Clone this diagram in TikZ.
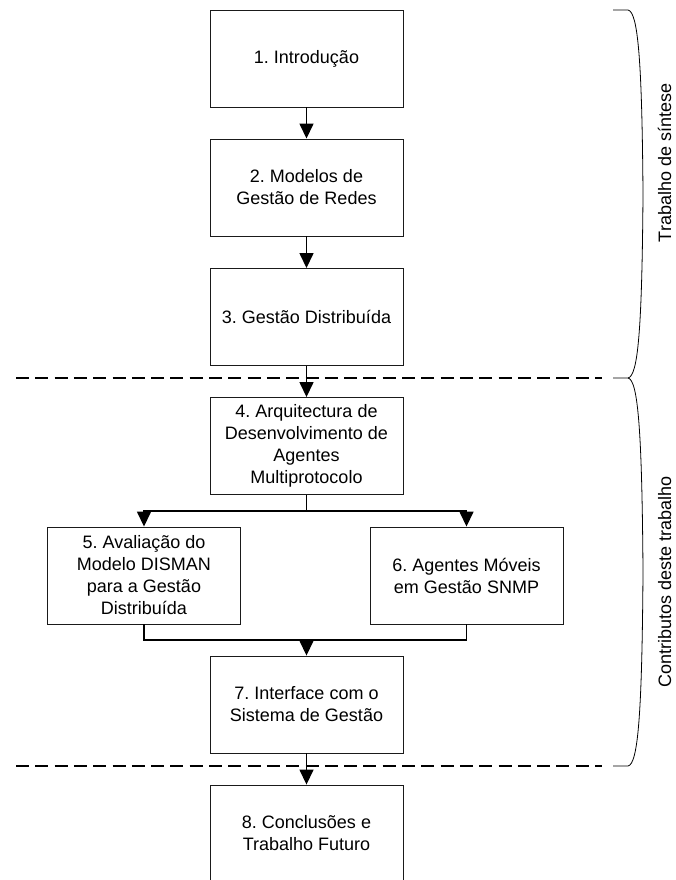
\documentclass[tikz,border=0pt]{standalone}
\usepackage{fontspec}
\setmainfont{Liberation Sans}
\usetikzlibrary{arrows.meta,positioning,calc}
\definecolor{Ink}{HTML}{1A1A1A}
\frenchspacing
\newcommand{\Capitulo}[4]{%
  \node[draw=Ink,line width=0.9pt,minimum width=193pt,minimum height=97pt,inner sep=2pt,align=center,font=\fontsize{18}{22}\selectfont] (#1) at (#2,#3) {#4};%
}

\begin{document}
\begin{tikzpicture}[x=1pt,y=-1pt,
  flow/.style={draw=black,line width=1.5pt,-{Triangle[length=15pt,width=14pt]}},
  ligacao/.style={draw=black,line width=1.5pt},
  sep/.style={draw=black,line width=1.2pt,dash pattern=on 13pt off 6.3pt},
  brace/.style={draw=black,line width=0.8pt},
  parte/.style={rotate=90,anchor=base,inner sep=0pt,font=\fontsize{18}{22}\selectfont}]
\useasboundingbox (0,0) rectangle (675,880);
% separators between the parts
\draw[sep] (16,378) -- (602,378);
\draw[sep] (16,766) -- (602,766);
% chapters
\Capitulo{c1}{306.5}{58.5}{1. Introdução}
\Capitulo{c2}{306.5}{187.5}{2. Modelos de\\Gestão de Redes}
\Capitulo{c3}{306.5}{317}{3. Gestão Distribuída}
\Capitulo{c4}{306.5}{446}{4. Arquitectura de\\Desenvolvimento de\\Agentes\\Multiprotocolo}
\Capitulo{c5}{144}{575.5}{5. Avaliação do\\Modelo DISMAN\\para a Gestão\\Distribuída}
\Capitulo{c6}{466.5}{575.5}{6. Agentes Móveis\\em Gestão SNMP}
\Capitulo{c7}{306.5}{704.5}{7. Interface com o\\Sistema de Gestão}
\Capitulo{c8}{306.5}{833.5}{8. Conclusões e\\Trabalho Futuro}
\coordinate (fork) at (306.5,511);
\coordinate (merge) at (306.5,640);
\foreach \a/\b in {c1/c2,c2/c3,c3/c4,c7/c8} {
  \draw[flow] (\a) -- (\b);
}
\draw[ligacao] (c4) -- (fork);
\draw[flow] (fork) -| (c5);
\draw[flow] (fork) -| (c6);
\draw[ligacao] (c5) |- (merge);
\draw[ligacao] (c6) |- (merge);
\draw[flow] (merge) -- (c7);
% braces
\draw[brace] (613,10) -- (628,10) .. controls (638,12) and (642,60) .. (643,194)
  .. controls (642,330) and (638,376) .. (628,378) -- (613,378);
\draw[brace] (628,378) .. controls (638,380) and (642,430) .. (643,572)
  .. controls (642,715) and (638,764) .. (628,766) -- (613,766);
\node[parte] (sintese) at (671,163) {Trabalho de síntese};
\node[parte] (contrib) at (671,582) {Contributos deste trabalho};
\end{tikzpicture}
\end{document}
